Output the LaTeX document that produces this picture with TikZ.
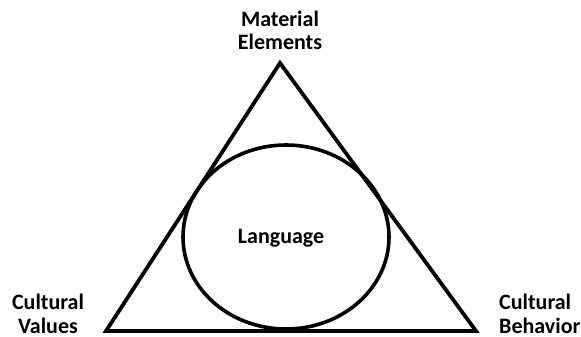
\documentclass[tikz,border=0pt]{standalone}
\usepackage{fontspec}
\setmainfont{Carlito}
\begin{document}
\begin{tikzpicture}[x=1pt,y=-1pt,
  lbl/.style={font=\bfseries\fontsize{22}{24}\selectfont, inner sep=0pt, anchor=base},
  triline/.style={line width=3.8pt, line join=miter}]
\useasboundingbox (0,0) rectangle (581,337);
\coordinate (top) at (280,63);
\coordinate (bl) at (106,331);
\coordinate (br) at (476,331);
\draw[triline] (top) -- (bl) -- (br) -- cycle;
\draw[line width=3.6pt] (286,237) ellipse [x radius=103, y radius=92];
\node[lbl, align=center] (lang) at (281,243) {Language};
\node[lbl, align=center, anchor=base] (mat) at (280,50) {Material\\Elements};
\node[lbl, align=center, anchor=base] (cv) at (48,333) {Cultural\\Values};
\node[lbl, align=left, anchor=base west] (cb) at (499,333) {Cultural\\Behavior};
\end{tikzpicture}
\end{document}
